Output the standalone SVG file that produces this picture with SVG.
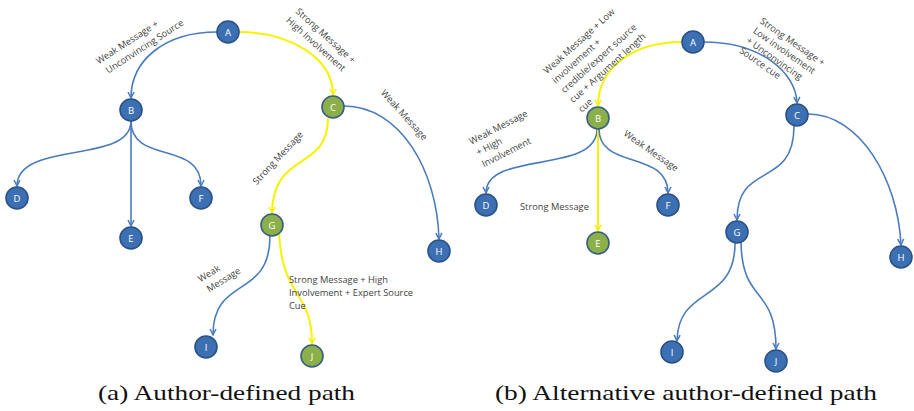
<svg xmlns="http://www.w3.org/2000/svg" width="914" height="411" viewBox="0 0 914 411">
<style>
.bg{fill:#ffffff}
.n circle{stroke-width:1.6}
.nb circle{fill:#3d70b2;stroke:#2a5288}
.ng circle{fill:#8bb04a;stroke:#3a5d84}
.n text{font-family:"Open Sans","Liberation Sans",sans-serif;font-size:9.5px;fill:#ffffff;text-anchor:middle}
.eb{fill:none;stroke:#4a7cbc;stroke-width:1.6;marker-end:url(#ab)}
.ey{fill:none;stroke:#f6f200;stroke-width:2;marker-end:url(#ay)}
.lb{font-family:"Open Sans","Liberation Sans",sans-serif;font-size:9.3px;fill:#3f3f3f}
.cap{font-family:"Liberation Serif","DejaVu Serif",serif;font-size:22px;fill:#111111}
</style>
<defs>
<marker id="ab" viewBox="0 0 8 8" refX="7" refY="4" markerWidth="8" markerHeight="8" markerUnits="userSpaceOnUse" orient="auto">
<path d="M1,1 L7,4 L1,7" fill="none" stroke="#4a7cbc" stroke-width="1.5"/>
</marker>
<marker id="ay" viewBox="0 0 8 8" refX="7" refY="4" markerWidth="8" markerHeight="8" markerUnits="userSpaceOnUse" orient="auto">
<path d="M1,1 L7,4 L1,7" fill="none" stroke="#f6f200" stroke-width="1.5"/>
</marker>
</defs>
<rect class="bg" x="0" y="0" width="914" height="411"/>

<g id="connectors">
<!-- panel a -->
<path class="eb" d="M217,32 C165,32 131,60 131,98"/>
<path class="ey" d="M239,32 C290,32 333,58 333,95"/>
<path class="eb" d="M344,106 C400,106 437,170 439,239"/>
<path class="ey" d="M328,118 C328,172 273,150 272,213"/>
<path class="eb" d="M270,236 C270,300 213,275 213,335"/>
<path class="ey" d="M279,234 C283,300 312,290 312,344"/>
<path class="eb" d="M131,121 C131,165 17,140 17,186"/>
<path class="eb" d="M131,121 L131,226"/>
<path class="eb" d="M131,121 C131,165 201,140 201,186"/>
<!-- panel b -->
<path class="ey" d="M682,42 C630,42 598,70 598,106"/>
<path class="eb" d="M704,42 C760,42 796,72 797,103"/>
<path class="eb" d="M597,129 C597,175 486,150 486,193"/>
<path class="ey" d="M598,129 L598,231"/>
<path class="eb" d="M599,129 C599,170 668,150 668,193"/>
<path class="eb" d="M794,126 C794,190 737,160 737,220"/>
<path class="eb" d="M808,114 C860,114 898,180 901,245"/>
<path class="eb" d="M735,243 C735,305 678,285 677,341"/>
<path class="eb" d="M741,242 C742,305 776,285 776,349"/>
</g>

<g id="labels">
<g transform="translate(97,62) rotate(-33)"><text class="lb" x="0" y="3">Weak Message +</text><text class="lb" x="3" y="16">Unconvincing Source</text></g>
<g transform="translate(297,10) rotate(42)"><text class="lb" x="0" y="3">Strong Message +</text><text class="lb" x="-1" y="16">High Involvement</text></g>
<text class="lb" text-anchor="middle" transform="translate(404,115) rotate(48)" y="3">Weak Message</text>
<text class="lb" text-anchor="middle" transform="translate(278,158) rotate(-47)" y="3">Strong Message</text>
<g transform="translate(199,280) rotate(-32)"><text class="lb" x="0" y="3">Weak</text><text class="lb" x="2" y="16">Message</text></g>
<text class="lb" x="289" y="283">Strong Message + High</text>
<text class="lb" x="289" y="296">Involvement + Expert Source</text>
<text class="lb" x="289" y="309">Cue</text>

<g transform="translate(545,72) rotate(-42)"><text class="lb" x="0" y="3">Weak Message + Low</text><text class="lb" x="0" y="16">involvement +</text><text class="lb" x="0" y="29">credible/expert source</text><text class="lb" x="0" y="42">cue + Argument length</text><text class="lb" x="0" y="55">cue</text></g>
<g transform="translate(761,20) rotate(35)"><text class="lb" x="0" y="3">Strong Message +</text><text class="lb" x="0" y="15">Low involvement</text><text class="lb" x="0" y="27">+ Unconvincing</text><text class="lb" x="0" y="39">Source cue</text></g>
<g transform="translate(470,142) rotate(-27)"><text class="lb" x="0" y="3">Weak Message</text><text class="lb" x="1" y="16">+ High</text><text class="lb" x="1" y="29">Involvement</text></g>
<text class="lb" text-anchor="middle" transform="translate(651,151) rotate(35)" y="3">Weak Message</text>
<text class="lb" x="520" y="210">Strong Message</text>
</g>

<g id="a-A" class="n nb"><circle cx="228" cy="32" r="11"/><text x="228" y="35.5">A</text></g>
<g id="a-B" class="n nb"><circle cx="131" cy="110" r="11"/><text x="131" y="113.5">B</text></g>
<g id="a-C" class="n ng"><circle cx="333" cy="107" r="11"/><text x="333" y="110.5">C</text></g>
<g id="a-D" class="n nb"><circle cx="17" cy="198" r="11"/><text x="17" y="201.5">D</text></g>
<g id="a-E" class="n nb"><circle cx="131" cy="238" r="11"/><text x="131" y="241.5">E</text></g>
<g id="a-F" class="n nb"><circle cx="201" cy="198" r="11"/><text x="201" y="201.5">F</text></g>
<g id="a-G" class="n ng"><circle cx="272" cy="225" r="11"/><text x="272" y="228.5">G</text></g>
<g id="a-H" class="n nb"><circle cx="439" cy="251" r="11"/><text x="439" y="254.5">H</text></g>
<g id="a-I" class="n nb"><circle cx="206" cy="347" r="11"/><text x="206" y="350.5">I</text></g>
<g id="a-J" class="n ng"><circle cx="312" cy="356" r="11"/><text x="312" y="359.5">J</text></g>

<g id="b-A" class="n nb"><circle cx="693" cy="42" r="11"/><text x="693" y="45.5">A</text></g>
<g id="b-B" class="n ng"><circle cx="598" cy="118" r="11"/><text x="598" y="121.5">B</text></g>
<g id="b-C" class="n nb"><circle cx="797" cy="115" r="11"/><text x="797" y="118.5">C</text></g>
<g id="b-D" class="n nb"><circle cx="486" cy="205" r="11"/><text x="486" y="208.5">D</text></g>
<g id="b-E" class="n ng"><circle cx="598" cy="243" r="11"/><text x="598" y="246.5">E</text></g>
<g id="b-F" class="n nb"><circle cx="668" cy="205" r="11"/><text x="668" y="208.5">F</text></g>
<g id="b-G" class="n nb"><circle cx="737" cy="232" r="11"/><text x="737" y="235.5">G</text></g>
<g id="b-H" class="n nb"><circle cx="901" cy="257" r="11"/><text x="901" y="260.5">H</text></g>
<g id="b-I" class="n nb"><circle cx="672" cy="352" r="11"/><text x="672" y="355.5">I</text></g>
<g id="b-J" class="n nb"><circle cx="776" cy="361" r="11"/><text x="776" y="364.5">J</text></g>

<text class="cap" x="98" y="400" textLength="257" lengthAdjust="spacingAndGlyphs">(a) Author-defined path</text>
<text class="cap" x="495" y="400" textLength="382" lengthAdjust="spacingAndGlyphs">(b) Alternative author-defined path</text>
</svg>
